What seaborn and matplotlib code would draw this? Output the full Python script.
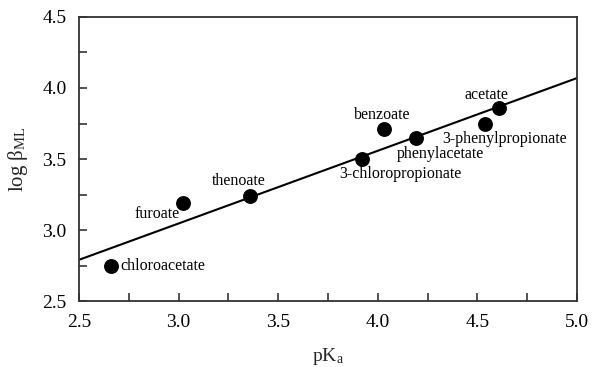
import matplotlib
matplotlib.use("Agg")
import matplotlib.pyplot as plt
from matplotlib.ticker import MultipleLocator
import numpy as np
import pandas as pd
import seaborn as sns

# Carboxylate ligands: acidity vs. complex stability
ligands = ["chloroacetate", "furoate", "thenoate", "3-chloropropionate",
           "benzoate", "phenylacetate", "3-phenylpropionate", "acetate"]
pka = [2.66, 3.02, 3.36, 3.92, 4.03, 4.19, 4.54, 4.61]
log_beta = [2.75, 3.19, 3.24, 3.50, 3.71, 3.65, 3.75, 3.86]

# Linear free-energy fit: log beta = slope * pKa + intercept
fit_slope = 0.512
fit_intercept = 1.51
fit_range = [2.5, 5.0]

# Label placement relative to each point (offset in points, alignment)
label_pos = {
    "chloroacetate": ((7, 0), "left", "center"),
    "furoate": ((-2, -8), "right", "center"),
    "thenoate": ((-8, 11), "center", "center"),
    "3-chloropropionate": ((28, -11), "center", "center"),
    "benzoate": ((-1, 10), "center", "center"),
    "phenylacetate": ((18, -12), "center", "center"),
    "3-phenylpropionate": ((14, -11), "center", "center"),
    "acetate": ((-9, 9), "center", "center"),
}

sns.set_theme(style="ticks")
plt.rcParams["font.family"] = ["Liberation Serif", "DejaVu Serif"]
plt.rcParams["mathtext.fontset"] = "stix"

df = pd.DataFrame({"ligand": ligands, "pKa": pka, "logb": log_beta})
fit_x = np.array(fit_range)
fit_df = pd.DataFrame({"pKa": fit_x, "logb": fit_slope * fit_x + fit_intercept})

fig = plt.figure(figsize=(5.92, 3.67), dpi=100)
ax = fig.add_axes([0.1334, 0.1798, 0.8413, 0.7739])

sns.lineplot(data=fit_df, x="pKa", y="logb", ax=ax, color="black", linewidth=1.5)
sns.scatterplot(data=df, x="pKa", y="logb", ax=ax, color="black", s=115,
                edgecolor="black", linewidth=0, zorder=3)

for name, x, y in zip(ligands, pka, log_beta):
    (dx, dy), ha, va = label_pos[name]
    ax.annotate(name, (x, y), xytext=(dx, dy), textcoords="offset points",
                ha=ha, va=va, fontsize=11.5, color="black")

ax.set_xlim(2.5, 5.0)
ax.set_ylim(2.5, 4.5)
ax.xaxis.set_major_locator(MultipleLocator(0.5))
ax.xaxis.set_minor_locator(MultipleLocator(0.25))
ax.yaxis.set_major_locator(MultipleLocator(0.5))
ax.yaxis.set_minor_locator(MultipleLocator(0.25))
ax.set_xticklabels([f"{v:.1f}" for v in ax.get_xticks()])
ax.set_yticklabels([f"{v:.1f}" for v in ax.get_yticks()])
ax.tick_params(which="both", direction="in", length=5.5, width=1.2,
               color="#333333", top=False, right=False, labelsize=14,
               labelcolor="black")
ax.tick_params(axis="x", pad=9)
ax.tick_params(axis="y", pad=9)

for sp in ax.spines.values():
    sp.set_color("#333333")
    sp.set_linewidth(1.3)
    sp.set_visible(True)

ax.set_xlabel(r"pK$_\mathregular{a}$", fontsize=14, labelpad=11)
ax.set_ylabel(r"log $\mathregular{\beta}_\mathregular{ML}$", fontsize=15, labelpad=9)

fig.savefig("out.png", dpi=100)
